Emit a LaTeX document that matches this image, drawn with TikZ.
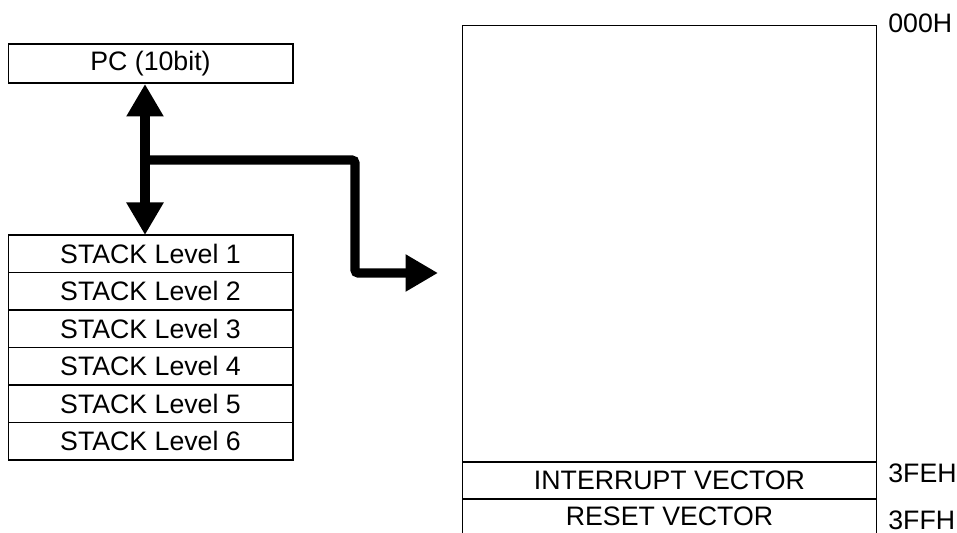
\documentclass[tikz,border=0pt]{standalone}
\usepackage{fontspec}
\setmainfont{Liberation Sans}
\usepackage{tikz}
\usetikzlibrary{arrows.meta}
\tikzset{
    cell/.style={draw, rectangle, line width=0.6pt, inner sep=0pt, outer sep=0pt, minimum width=5.7cm, minimum height=0.75cm, align=center, font=\fontsize{15.2}{17}\selectfont},
    memcell/.style={cell, minimum width=8.3cm},
    addr/.style={anchor=west, inner sep=0pt, font=\fontsize{15.2}{17}\selectfont},
    bigarrow/.style={line width=5.4pt, rounded corners=2pt},
    >={Triangle[length=18.5pt, width=20pt]}
}

\begin{document}
\begin{tikzpicture}[x=0.02cm, y=-0.02cm]
\clip (0,0) rectangle (957,533);
\useasboundingbox (0,0) rectangle (957,533);
% program counter and stack
\node[cell, minimum height=0.78cm] (pc) at (150.5,63.5) {PC (10bit)};
\foreach \i in {1,...,6}
    \node[cell] (s\i) at (150.5,{235+37.5*(\i-0.5)}) {STACK Level \i};
% program memory
\node[memcell, minimum height=8.74cm] (mem) at (669.5,243.5) {};
\node[memcell, minimum height=0.74cm] (irq) at (669.5,480.5) {INTERRUPT VECTOR};
\node[memcell, minimum height=0.8cm, anchor=north] (rst) at (669.5,499) {};
\node at (669.5,516) [font=\fontsize{15.2}{17}\selectfont] {RESET VECTOR};
\node[addr] (a0) at (888,23) {000H};
\node[addr] (a1) at (888,473) {3FEH};
\node[addr] (a2) at (888,520) {3FFH};
% arrows
\coordinate (pcb) at (145,84);
\coordinate (s1t) at (145,235);
\coordinate (junc) at (145,160);
\coordinate (tgt) at (438,273);
\draw[bigarrow, <->] (pcb) -- (s1t);
\draw[bigarrow, ->] (junc) -- ++(210,0) |- (tgt);
\end{tikzpicture}
\end{document}
